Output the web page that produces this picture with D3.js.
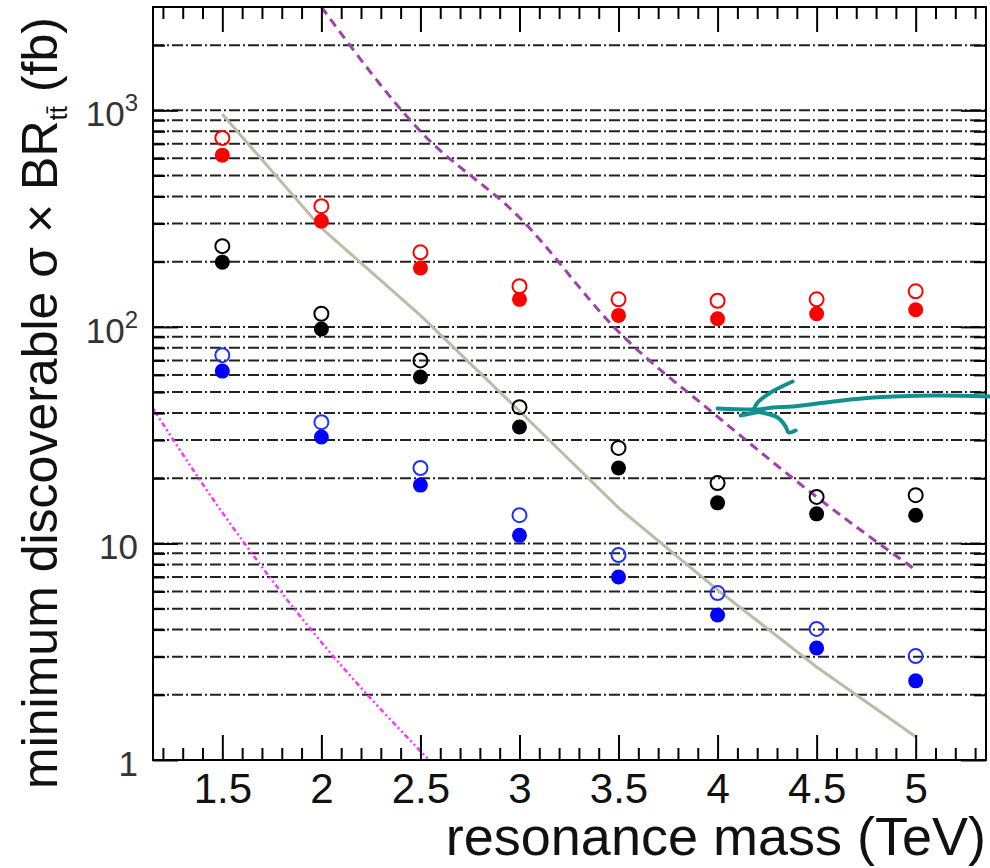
<!doctype html>
<meta charset="utf-8">
<style>
    body { margin: 0; background: #fff; }
    svg { display: block; font-family: "Liberation Sans", Arial, Helvetica, sans-serif; }
    .grid line { stroke: #222; stroke-width: 2; stroke-dasharray: 11,3,2,3; }
    .ax path { display: none; }
    .ax line { stroke: #000; stroke-width: 2; }
</style>
<body>
<script src="https://cdn.jsdelivr.net/npm/d3@7"></script>
<script>
    // resonance masses (TeV)
    const masses = [1.5, 2, 2.5, 3, 3.5, 4, 4.5, 5];
    // minimum discoverable cross section (fb)
    const redOpen = [745, 361, 221, 154, 134, 132, 134, 146];
    const redFilled = [621, 308, 187, 134, 113, 109, 115, 120];
    const blackOpen = [236, 115, 70, 42.6, 27.6, 19.0, 16.4, 16.7];
    const blackFilled = [199, 97.7, 58.7, 34.5, 22.3, 15.4, 13.7, 13.5];
    const blueOpen = [74, 36.3, 22.3, 13.5, 8.84, 5.90, 4.03, 3.02];
    const blueFilled = [62.5, 31.0, 18.6, 10.9, 7.0, 4.67, 3.29, 2.32];
    // theory curves
    const grayCurve = [960, 286, 113, 40.9, 14.6, 6.1, 2.69, 1.28];
    const purpleMasses = [2, 2.5, 3, 3.5, 4, 4.5, 5];
    const purpleCurve = [3000, 800, 320, 95, 38.5, 16.4, 7.54];
    const magentaMasses = [1, 1.5, 2, 2.5, 3];
    const magentaCurve = [69, 13.9, 3.5, 1.1, 0.39];
    // axes
    const xTicks = [1.5, 2, 2.5, 3, 3.5, 4, 4.5, 5];
    const xMinor = d3.range(12, 54).map(d => d / 10).filter(d => Math.round(d * 10) % 5 !== 0);
    const yDecades = [1, 10, 100, 1000];
    const yGrid = [2, 3, 4, 5, 6, 7, 8, 9, 10, 20, 30, 40, 50, 60, 70, 80, 90,
        100, 200, 300, 400, 500, 600, 700, 800, 900, 1000, 2000];
    const yLabels = [['1', ''], ['10', ''], ['10', '2'], ['10', '3']];

    const W = 990, H = 868;
    const plot = {left: 153, right: 986, top: 7, bottom: 760};

    const x = d3.scaleLinear().domain([1.15, 5.355]).range([plot.left, plot.right]);
    const y = d3.scaleLog().domain([1, 3000]).range([plot.bottom, plot.top]);

    const svg = d3.select('body').append('svg')
        .attr('width', W).attr('height', H);
    svg.append('rect').attr('width', W).attr('height', H).attr('fill', '#fff');

    svg.append('clipPath').attr('id', 'clip')
        .append('rect')
        .attr('x', plot.left).attr('y', plot.top)
        .attr('width', plot.right - plot.left).attr('height', plot.bottom - plot.top);

    // dash-dot grid
    svg.append('g').attr('class', 'grid')
        .selectAll('line').data(yGrid).enter().append('line')
        .attr('x1', plot.left).attr('x2', plot.right)
        .attr('y1', d => y(d)).attr('y2', d => y(d));

    // curves
    const curves = svg.append('g').attr('clip-path', 'url(#clip)');
    const line = d3.line().x(d => x(d[0])).y(d => y(d[1]));
    const smooth = d3.line().curve(d3.curveMonotoneX).x(d => x(d[0])).y(d => y(d[1]));

    curves.append('path')
        .datum(d3.zip(magentaMasses, magentaCurve))
        .attr('d', smooth).attr('fill', 'none')
        .attr('stroke', '#ff33ff').attr('stroke-width', 2.5)
        .attr('stroke-dasharray', '5,3,2,3,2,3');

    curves.append('path')
        .datum(d3.zip(purpleMasses, purpleCurve))
        .attr('d', smooth).attr('fill', 'none')
        .attr('stroke', '#a040b0').attr('stroke-width', 3)
        .attr('stroke-dasharray', '9,6');

    curves.append('path')
        .datum(d3.zip(masses, grayCurve))
        .attr('d', line).attr('fill', 'none')
        .attr('stroke', '#bcbca6').attr('stroke-width', 3);

    // markers
    const series = [
        {vals: redOpen, color: '#ff0000', open: true},
        {vals: redFilled, color: '#ff0000', open: false},
        {vals: blackOpen, color: '#000', open: true},
        {vals: blackFilled, color: '#000', open: false},
        {vals: blueOpen, color: '#2030ff', open: true},
        {vals: blueFilled, color: '#0000ff', open: false}
    ];
    series.forEach(s => {
        svg.append('g').selectAll('circle')
            .data(d3.zip(masses, s.vals)).enter().append('circle')
            .attr('cx', d => x(d[0])).attr('cy', d => y(d[1]))
            .attr('r', s.open ? 7 : 7.5)
            .attr('fill', s.open ? 'none' : s.color)
            .attr('stroke', s.open ? s.color : 'none')
            .attr('stroke-width', 2);
    });

    // ticks (ROOT style, pointing inward)
    const axes = svg.append('g');
    axes.append('g').attr('class', 'ax').attr('transform', `translate(0,${plot.bottom})`)
        .call(d3.axisBottom(x).tickValues(xMinor).tickSize(-12).tickFormat(''));
    axes.append('g').attr('class', 'ax').attr('transform', `translate(0,${plot.bottom})`)
        .call(d3.axisBottom(x).tickValues(xTicks).tickSize(-25).tickPadding(13).tickFormat(d => d))
        .selectAll('text').attr('font-size', 42).attr('fill', '#111')
        .attr('font-family', '"Liberation Sans", Arial, sans-serif');
    axes.append('g').attr('class', 'ax').attr('transform', `translate(0,${plot.top})`)
        .call(d3.axisTop(x).tickValues(xMinor).tickSize(-12).tickFormat(''));
    axes.append('g').attr('class', 'ax').attr('transform', `translate(0,${plot.top})`)
        .call(d3.axisTop(x).tickValues(xTicks).tickSize(-25).tickFormat(''));
    axes.append('g').attr('class', 'ax').attr('transform', `translate(${plot.left},0)`)
        .call(d3.axisLeft(y).tickValues(yGrid.filter(d => !yDecades.includes(d))).tickSize(-12).tickFormat(''));
    axes.append('g').attr('class', 'ax').attr('transform', `translate(${plot.left},0)`)
        .call(d3.axisLeft(y).tickValues(yDecades).tickSize(-25).tickFormat(''));
    axes.append('g').attr('class', 'ax').attr('transform', `translate(${plot.right},0)`)
        .call(d3.axisRight(y).tickValues(yGrid.filter(d => !yDecades.includes(d))).tickSize(-12).tickFormat(''));
    axes.append('g').attr('class', 'ax').attr('transform', `translate(${plot.right},0)`)
        .call(d3.axisRight(y).tickValues(yDecades).tickSize(-25).tickFormat(''));

    // frame
    svg.append('rect')
        .attr('x', plot.left).attr('y', plot.top)
        .attr('width', plot.right - plot.left).attr('height', plot.bottom - plot.top)
        .attr('fill', 'none').attr('stroke', '#000').attr('stroke-width', 2);

    // y tick labels
    const yl = svg.append('g').attr('font-size', 35).attr('fill', '#333');
    yDecades.forEach((d, i) => {
        const t = yl.append('text')
            .attr('x', 138).attr('y', y(d) + 16)
            .attr('text-anchor', 'end');
        t.append('tspan').text(yLabels[i][0]);
        if (yLabels[i][1]) {
            t.append('tspan').attr('font-size', 24).attr('dy', -15).text(yLabels[i][1]);
        }
    });

    // axis titles
    svg.append('text')
        .attr('x', 986).attr('y', 855)
        .attr('text-anchor', 'end').attr('font-size', 54).attr('fill', '#111')
        .text('resonance mass (TeV)');

    const yt = svg.append('text')
        .attr('transform', `translate(57,789) rotate(-90)`)
        .attr('font-size', 50).attr('fill', '#111');
    yt.append('tspan').text('minimum discoverable σ × BR');
    yt.append('tspan').attr('font-size', 26).attr('dy', 10).text('tt\u0304');
    yt.append('tspan').attr('dy', -10).text(' (fb)');

    // hand drawn arrow, anchored at the tip
    const tip = [x(4), y(42)];
    const strokes = [
        [[273, -12], [216, -13], [156, -11], [116, -7], [76, -2], [56, -1], [40, 1], [0, 0]],
        [[23, 7], [43, 3]],
        [[75, -27], [53, -16], [40, -6], [36, 1]],
        [[38, 3], [60, 9], [68, 18], [71, 24], [78, 22]]
    ];
    const hand = d3.line().curve(d3.curveCatmullRom)
        .x(d => tip[0] + d[0]).y(d => tip[1] + d[1]);
    svg.append('g').selectAll('path').data(strokes).enter().append('path')
        .attr('d', hand).attr('fill', 'none')
        .attr('stroke', '#12908f').attr('stroke-width', 4)
        .attr('stroke-linecap', 'round').attr('stroke-linejoin', 'round');
</script>
</body>
